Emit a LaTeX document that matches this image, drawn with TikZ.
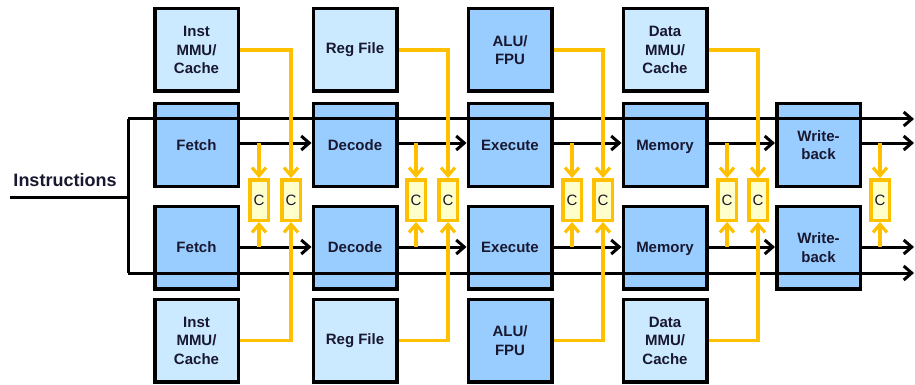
\documentclass[tikz,border=0pt]{standalone}
\usepackage{fontspec}
\setmainfont{Liberation Sans}
\usetikzlibrary{arrows.meta}
\definecolor{stagefill}{RGB}{153,204,255}
\definecolor{auxfill}{RGB}{204,234,255}
\definecolor{cfill}{RGB}{255,255,204}
\definecolor{gold}{RGB}{255,192,0}
\definecolor{ink}{RGB}{24,24,48}
% label whose descenders do not move it off centre
\newcommand{\nodepth}[1]{\raisebox{0pt}[\height][0pt]{#1}}
\begin{document}
\begin{tikzpicture}[x=1pt,y=-1pt,
  box/.style={draw=black, line width=3.5pt, minimum width=83.5pt, minimum height=82.5pt,
    inner sep=0pt, align=center, text=ink,
    font=\bfseries\fontsize{15}{18.5}\selectfont},
  stagebox/.style={box, fill=stagefill},
  auxbox/.style={box, fill=auxfill},
  cbox/.style={draw=gold, fill=cfill, line width=3.5pt, minimum width=18.5pt,
    minimum height=40.5pt, inner sep=0pt, text=ink, font=\fontsize{15}{15}\selectfont},
  bus/.style={line width=3pt, -{Straight Barb[length=8pt,width=14pt]}},
  wire/.style={line width=3pt},
  feed/.style={draw=gold, line width=3.2pt, -{Straight Barb[length=8pt,width=14pt]}}
]
\useasboundingbox (0,0) rectangle (915,385);

% pipeline stages, upper and lower
\foreach \n/\x/\t in {f/196.5/Fetch, d/355/Decode, e/510/Execute, m/665/\nodepth{Memory}, w/818.5/{Write-\\back}}{
  \node[stagebox] (\n1) at (\x,145) {\t};
  \node[stagebox] (\n2) at (\x,247.5) {\t};
}

% support units, above and below
\node[auxbox] (ia) at (196.5,50) {Inst\\MMU/\\Cache};
\node[auxbox] (ib) at (196.5,340.5) {Inst\\MMU/\\Cache};
\node[auxbox] (ra) at (355,50) {Reg File};
\node[auxbox] (rb) at (355,340.5) {Reg File};
\node[stagebox] (aa) at (510,50) {ALU/\\FPU};
\node[stagebox] (ab) at (510,340.5) {ALU/\\FPU};
\node[auxbox] (da) at (665,50) {Data\\MMU/\\Cache};
\node[auxbox] (db) at (665,340.5) {Data\\MMU/\\Cache};

% instruction input and the two through buses
\node[text=ink, font=\bfseries\fontsize{18}{20}\selectfont] (lbl) at (65,180) {Instructions};
\coordinate (src) at (10,197);
\coordinate (split) at (128,197);
\coordinate (outA) at (914,119);
\coordinate (outB) at (914,143);
\coordinate (outC) at (914,247);
\coordinate (outD) at (914,273);
\draw[wire] (src) -- (split);
\draw[wire, line join=miter] (split |- outA) -- (split |- outD);
\draw[bus] (split |- outA) -- (outA);
\draw[bus] (split |- outD) -- (outD);

% stage-to-stage flow
\foreach \a/\b in {f/d, d/e, e/m, m/w}{
  \draw[bus] (\a1.east |- outB) -- (\b1.west |- outB);
  \draw[bus] (\a2.east |- outC) -- (\b2.west |- outC);
}
\draw[bus] (w1.east |- outB) -- (outB);
\draw[bus] (w2.east |- outC) -- (outC);

% comparators
\foreach \n/\x in {c1/259, c2/291, c3/416, c4/448, c5/572, c6/603, c7/727, c8/758, c9/880}{
  \node[cbox] (\n) at (\x,200) {C};
}

% taps from the stage outputs
\foreach \c in {c1, c3, c5, c7, c9}{
  \draw[feed] (\c.north |- outB) -- (\c.north);
  \draw[feed] (\c.south |- outC) -- (\c.south);
}

% feeds from the support units
\foreach \u/\c in {ia/c2, ra/c4, aa/c6, da/c8}{
  \draw[feed] (\u.east) -| (\c.north);
}
\foreach \u/\c in {ib/c2, rb/c4, ab/c6, db/c8}{
  \draw[feed] (\u.east) -| (\c.south);
}

% comparators sit above the wires
\foreach \n/\x in {c1/259, c2/291, c3/416, c4/448, c5/572, c6/603, c7/727, c8/758, c9/880}{
  \node[cbox] at (\x,200) {C};
}
\end{tikzpicture}
\end{document}
